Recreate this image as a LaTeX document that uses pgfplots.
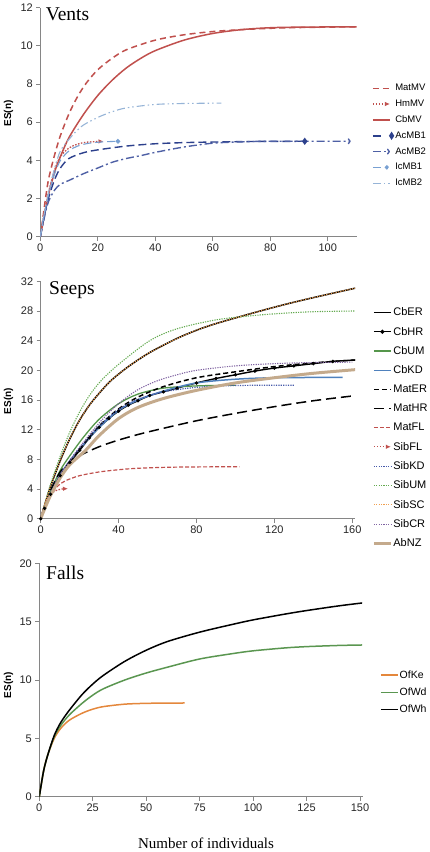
\documentclass[border=0pt]{standalone}
\usepackage{fontspec}
\setmainfont{Liberation Sans}
\newfontfamily\timesf{Liberation Serif}
\usepackage{pgfplots}
\pgfplotsset{compat=1.18}
\usetikzlibrary{arrows.meta,shapes.geometric}

\definecolor{ered}{RGB}{192,80,77}
\definecolor{ac1}{RGB}{44,64,140}
\definecolor{ac2}{RGB}{78,96,165}
\definecolor{ic1}{RGB}{120,160,210}
\definecolor{ic2}{RGB}{150,180,215}
\definecolor{cbum}{RGB}{85,150,75}
\definecolor{ebl}{RGB}{79,129,189}
\definecolor{sibkd}{RGB}{70,90,170}
\definecolor{sibum}{RGB}{100,170,80}
\definecolor{sibsc}{RGB}{240,160,80}
\definecolor{sibcr}{RGB}{128,100,162}
\definecolor{abnz}{RGB}{196,170,140}
\definecolor{ofke}{RGB}{228,135,60}
\definecolor{ofwd}{RGB}{90,150,80}
\definecolor{axgray}{RGB}{134,134,134}

\pgfplotsset{
  myaxis/.style={
    scale only axis, anchor=south west,
    axis lines=left, axis line style={-, axgray, line width=0.8pt},
    tick align=outside, major tick length=4pt,
    tick style={axgray, line width=0.8pt},
    tick label style={font=\fontsize{11}{13}\selectfont, text=black!85},
    /pgf/number format/assume math mode=true,
    ymin=0, xmin=0,
    legend cell align=left,
    legend image code/.code={\draw[#1] (0pt,0pt) -- (17pt,0pt);},
    every axis plot/.append style={smooth, tension=0.5},
  },
}

\begin{document}
\begin{tikzpicture}
\useasboundingbox (0,0) rectangle (430pt,852pt);

% ---------------- Vents ----------------
\begin{axis}[myaxis, at={(40.3pt,615.3pt)}, width=316.2pt, height=229pt,
  xmax=110, ymax=12, xtick={0,20,...,100}, ytick={0,2,...,12},
  legend style={at={(1.049,0.671)}, anchor=north west, draw=none, fill=none,
    inner sep=0pt, row sep=5.7pt, font=\fontsize{9.5}{11}\selectfont,
    nodes={inner sep=1pt, minimum height=9pt}}]
\addplot[ered, line width=1.5pt, dash pattern=on 6pt off 4pt] coordinates {
(0,0)(1,1.1)(2,2.2)(3,3.1)(5,4.3)(7,5.3)(10,6.45)(13,7.35)(16,8.05)(20,8.75)(25,9.35)(30,9.8)(40,10.3)(50,10.58)(60,10.75)(70,10.85)(80,10.92)(90,10.96)(100,10.98)(110,11.0)};
\addlegendentry{MatMV}
\addplot[ered, line width=1.3pt, dash pattern=on 1.5pt off 1.5pt, -{Latex[length=5pt,width=4.5pt]}] coordinates {
(0,0)(1,0.9)(2,1.7)(3,2.4)(5,3.5)(7,4.2)(10,4.65)(13,4.85)(16,4.95)(22,5.0)};
\addlegendentry{HmMV}
\addplot[ered, line width=1.5pt] coordinates {
(0,0)(1,0.8)(2,1.6)(3,2.3)(5,3.4)(7,4.2)(10,5.2)(15,6.4)(20,7.4)(25,8.2)(30,8.85)(35,9.35)(40,9.75)(50,10.3)(60,10.65)(70,10.85)(80,10.95)(90,10.98)(110,11.0)};
\addlegendentry{CbMV}
\addplot[ac1, line width=1.4pt, dash pattern=on 8pt off 4pt, mark=diamond*, mark size=2.5pt, mark options={solid}, mark indices={15},
  legend image code/.code={\draw[ac1, line width=1.4pt] (0pt,0pt)--(10pt,0pt); \node[ac1, fill, diamond, inner sep=1.1pt] at (15pt,0pt) {};}] coordinates {
(0,0)(1,0.8)(2,1.5)(3,2.1)(5,3.0)(7,3.6)(10,4.1)(15,4.4)(20,4.55)(30,4.75)(40,4.87)(50,4.93)(60,4.96)(75,4.99)(92,5.0)};
\addlegendentry{AcMB1}
\addplot[ac2, line width=1.4pt, dash pattern=on 8pt off 3pt on 2pt off 3pt, -{To[length=3pt,width=6pt]}] coordinates {
(0,0)(1,0.7)(2,1.4)(3,1.9)(5,2.45)(7,2.75)(10,2.95)(15,3.3)(20,3.6)(25,3.9)(30,4.1)(35,4.25)(40,4.42)(50,4.7)(60,4.9)(70,4.97)(80,5.0)(108,5.0)};
\addlegendentry{AcMB2}
\addplot[ic1, line width=1.1pt, dash pattern=on 8pt off 4pt, mark=*, mark size=1.8pt, mark options={solid}, mark indices={11},
  legend image code/.code={\draw[ic1, line width=1.1pt] (0pt,0pt)--(10pt,0pt); \fill[ic1] (14pt,0pt) circle (1.6pt);}] coordinates {
(0,0)(1,0.9)(2,1.6)(3,2.3)(5,3.3)(7,4.0)(10,4.5)(13,4.75)(17,4.9)(22,4.97)(27,5.0)};
\addlegendentry{IcMB1}
\addplot[ic2, line width=1.1pt, dash pattern=on 8pt off 3pt on 1.5pt off 3pt on 1.5pt off 3pt] coordinates {
(0,0)(1,0.9)(2,1.7)(3,2.4)(5,3.6)(7,4.5)(10,5.1)(12,5.45)(15,5.85)(20,6.25)(25,6.55)(30,6.75)(40,6.93)(50,6.98)(63,7.0)};
\addlegendentry{IcMB2}
\end{axis}

% ---------------- Seeps ----------------
\begin{axis}[myaxis, at={(40.7pt,333.3pt)}, width=314.5pt, height=237.4pt,
  xmax=161.5, ymax=32, xtick={0,40,...,160}, ytick={0,4,...,32},
  legend style={at={(1.054,0.894)}, anchor=north west, draw=none, fill=none,
    inner sep=0pt, row sep=7.9pt, font=\fontsize{11}{13}\selectfont,
    nodes={inner sep=1pt, minimum height=10pt}}]
\addplot[black, line width=1.5pt] coordinates {
(0,0)(2,1.8)(5,4.3)(10,7.8)(15,10.8)(20,13.3)(25,15.3)(30,16.9)(36,18.6)(45,20.5)(56,22.4)(70,24.3)(80,25.4)(90,26.3)(110,27.8)(125,28.85)(140,29.8)(162,31.1)};
\addlegendentry{CbER}
\addplot[black, line width=1.4pt, mark=*, mark size=0.9pt,
  legend image code/.code={\draw[black, line width=1.2pt] (0pt,0pt)--(17pt,0pt); \fill[black] (8.5pt,0pt) circle (1.3pt);}] coordinates {
(0,0)(2,1.4)(5,3.3)(10,5.8)(15,7.6)(20,9.2)(25,10.9)(30,12.3)(35,13.5)(40,14.5)(45,15.3)(50,15.9)(56,16.6)(63,17.1)(70,17.6)(80,18.3)(90,18.9)(100,19.4)(110,19.9)(120,20.3)(130,20.6)(140,20.9)(150,21.2)(162,21.4)};
\addlegendentry{CbHR}
\addplot[cbum, line width=1.3pt] coordinates {
(0,0)(2,1.5)(5,3.6)(10,6.5)(15,8.5)(22,11.0)(30,13.4)(40,15.5)(50,16.8)(63,17.6)(80,17.9)(100,18.0)};
\addlegendentry{CbUM}
\addplot[ebl, line width=1.5pt] coordinates {
(0,0)(2,1.4)(5,3.3)(10,5.9)(15,7.8)(20,9.4)(30,12.3)(40,14.6)(50,16.0)(63,17.2)(80,18.3)(100,18.8)(120,19.0)(155,19.05)};
\addlegendentry{CbKD}
\addplot[black, line width=1.5pt, dash pattern=on 5pt off 3pt] coordinates {
(0,0)(2,1.4)(5,3.3)(10,5.8)(15,7.7)(20,9.4)(30,12.5)(40,14.8)(50,16.4)(63,17.8)(80,19.0)(100,19.8)(120,20.5)(140,21.0)(162,21.4)};
\addlegendentry{MatER}
\addplot[black, line width=1.5pt, dash pattern=on 10pt off 5pt] coordinates {
(0,0)(2,1.6)(5,3.8)(10,6.3)(15,7.6)(20,8.5)(30,9.7)(40,10.6)(50,11.35)(60,12.0)(80,13.2)(100,14.2)(120,15.1)(140,15.9)(162,16.6)};
\addlegendentry{MatHR}
\addplot[ered, line width=1.2pt, dash pattern=on 4pt off 2pt] coordinates {
(0,0)(2,1.6)(5,3.3)(10,4.7)(13,5.15)(20,5.8)(30,6.3)(40,6.6)(50,6.8)(65,6.93)(80,6.98)(102,7.0)};
\addlegendentry{MatFL}
\addplot[ered, line width=1.2pt, dash pattern=on 1.5pt off 1.5pt, -{Latex[length=5pt,width=4.5pt]}] coordinates {
(0,0)(1,1.0)(2,1.9)(3,2.6)(5,3.3)(8,3.8)(11,4.0)(14,4.05)};
\addlegendentry{SibFL}
\addplot[sibkd, line width=1.2pt, dash pattern=on 1.2pt off 1.2pt] coordinates {
(0,0)(2,1.4)(5,3.4)(10,6.0)(20,9.6)(30,12.5)(40,14.7)(50,16.1)(63,17.1)(80,17.7)(100,17.95)(130,18.0)};
\addlegendentry{SibKD}
\addplot[sibum, line width=1.1pt, dash pattern=on 1.2pt off 1.2pt] coordinates {
(0,0)(2,1.9)(5,4.6)(10,8.4)(15,11.7)(20,14.4)(25,16.6)(31,18.6)(40,20.8)(56,24.0)(70,25.6)(90,26.8)(110,27.4)(125,27.7)(140,27.9)(162,28.0)};
\addlegendentry{SibUM}
\addplot[sibsc, line width=1.1pt, dash pattern=on 1.2pt off 1.2pt] coordinates {
(0,0)(2,1.8)(5,4.3)(10,7.8)(15,10.8)(20,13.3)(25,15.3)(30,16.9)(36,18.6)(45,20.5)(56,22.4)(70,24.3)(80,25.4)(90,26.3)(110,27.8)(125,28.85)(140,29.8)(162,31.1)};
\addlegendentry{SibSC}
\addplot[sibcr, line width=1.1pt, dash pattern=on 1.2pt off 1.2pt] coordinates {
(0,0)(2,1.4)(5,3.3)(10,5.9)(20,9.6)(30,12.9)(40,15.5)(50,17.4)(60,18.6)(70,19.4)(80,20.0)(100,20.6)(120,20.9)(140,21.05)(160,21.1)};
\addlegendentry{SibCR}
\addplot[abnz, line width=3pt] coordinates {
(0,0)(2,1.3)(5,3.1)(10,5.5)(15,7.3)(23,9.2)(30,11.2)(40,13.5)(50,15.0)(63,16.2)(80,17.3)(100,18.3)(120,19.0)(140,19.6)(162,20.1)};
\addlegendentry{AbNZ}
\end{axis}

% ---------------- Falls ----------------
\begin{axis}[myaxis, at={(39.3pt,55.3pt)}, width=323.9pt, height=233.4pt,
  xmax=151.5, ymax=20, xtick={0,25,...,150}, ytick={0,5,...,20},
  legend style={at={(1.052,0.545)}, anchor=north west, draw=none, fill=none,
    inner sep=0pt, row sep=6pt, font=\fontsize{10.5}{12}\selectfont,
    nodes={inner sep=1pt, minimum height=10pt}}]
\addplot[ofke, line width=1.5pt] coordinates {
(0,0)(2,2.2)(4,3.6)(7,5.0)(10,5.85)(14,6.55)(20,7.15)(25,7.5)(30,7.72)(40,7.93)(50,8.0)(60,8.02)(68,8.03)};
\addlegendentry{OfKe}
\addplot[ofwd, line width=1.5pt] coordinates {
(0,0)(2,2.2)(4,3.6)(7,5.15)(10,6.1)(14,7.0)(20,8.0)(25,8.7)(30,9.25)(40,10.0)(50,10.6)(60,11.1)(75,11.8)(90,12.25)(100,12.5)(115,12.75)(125,12.86)(140,12.96)(151,13.0)};
\addlegendentry{OfWd}
\addplot[black, line width=1.5pt] coordinates {
(0,0)(2,2.2)(4,3.6)(7,5.25)(10,6.35)(14,7.4)(20,8.75)(25,9.65)(30,10.4)(40,11.6)(50,12.55)(60,13.3)(75,14.1)(90,14.75)(100,15.15)(115,15.65)(125,15.95)(140,16.35)(151,16.6)};
\addlegendentry{OfWh}
\end{axis}

% titles and labels
\node[anchor=base west, font=\timesf\fontsize{19.5}{22}\selectfont, inner sep=0pt] at (45.7pt,831.3pt) {Vents};
\node[anchor=base west, font=\timesf\fontsize{19.5}{22}\selectfont, inner sep=0pt] at (49pt,557pt) {Seeps};
\node[anchor=base west, font=\timesf\fontsize{19.5}{22}\selectfont, inner sep=0pt] at (46pt,272.7pt) {Falls};
\node[anchor=base, font=\timesf\fontsize{15}{17}\selectfont, inner sep=0pt] at (206pt,3pt) {Number of individuals};
\node[rotate=90, font=\bfseries\fontsize{10}{12}\selectfont, inner sep=0pt] at (8.5pt,738.5pt) {ES(n)};
\node[rotate=90, font=\bfseries\fontsize{10}{12}\selectfont, inner sep=0pt] at (8.5pt,451pt) {ES(n)};
\node[rotate=90, font=\bfseries\fontsize{10}{12}\selectfont, inner sep=0pt] at (8.5pt,167pt) {ES(n)};
\end{tikzpicture}
\end{document}
